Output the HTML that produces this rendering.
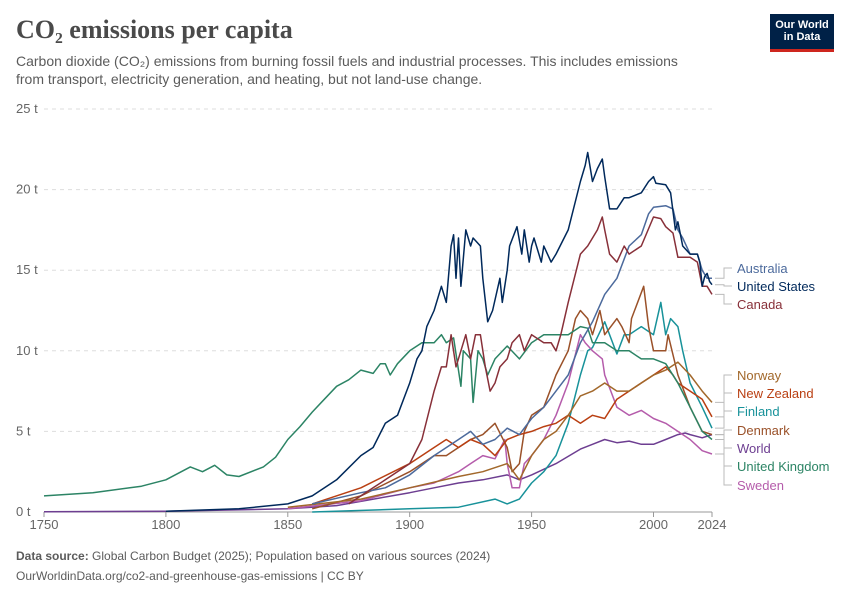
<!DOCTYPE html>
<html><head><meta charset="utf-8"><style>
body{margin:0;background:#fff;font-family:"Liberation Sans",sans-serif}
#wrap{position:relative;width:850px;height:600px;overflow:hidden}
.title{position:absolute;left:16px;top:15px;font-family:"Liberation Serif",serif;font-size:26px;font-weight:bold;color:#4a4a4a}
.sub{position:absolute;left:16px;top:52px;font-size:14px;line-height:18px;color:#5b5b5b;width:692px}
.logo{position:absolute;left:770px;top:14px;width:64px;height:38px;background:#002147;color:#fff;font-size:11px;line-height:12px;text-align:center;padding-top:5px;box-sizing:border-box;border-bottom:3px solid #ce261e;font-weight:bold}
.foot{position:absolute;left:16px;font-size:12px;color:#5b5b5b}
</style></head><body><div id="wrap">
<div class="title">CO₂ emissions per capita</div>
<div class="sub">Carbon dioxide (CO₂) emissions from burning fossil fuels and industrial processes. This includes emissions from transport, electricity generation, and heating, but not land-use change.</div>
<div class="logo">Our World<br>in Data</div>
<svg id="chart" width="850" height="600" style="position:absolute;left:0;top:0"></svg>
<div class="foot" style="top:549px"><b>Data source:</b> Global Carbon Budget (2025); Population based on various sources (2024)</div>
<div class="foot" style="top:569px">OurWorldinData.org/co2-and-greenhouse-gas-emissions | CC BY</div>
</div>
<script>
const yTicks=[0,5,10,15,20,25];
const xTicks=[1750,1800,1850,1900,1950,2000,2024];
const names=["Australia","United States","Canada","Norway","New Zealand","Finland","Denmark","World","United Kingdom","Sweden"];
const colors=["#4c6a9c","#00295b","#883039","#a2682b","#b93f12","#18929a","#9a5129","#6d3e91","#2c8465","#b55cab"];
const labelY=[268,286,304,375,393,411,430,448,466,485];
const australia=[[1860,0.5],[1880,1.2],[1890,1.5],[1900,2.3],[1910,3.5],[1920,4.5],[1925,5],[1930,4.2],[1935,4.5],[1940,5.2],[1945,4.8],[1950,5.8],[1955,6.5],[1960,7.5],[1965,8.5],[1970,10.5],[1975,11.8],[1980,13.5],[1985,14.5],[1990,16.5],[1995,17.2],[1998,18.5],[2000,18.9],[2005,19.0],[2008,18.8],[2010,17.5],[2012,17.0],[2015,16.0],[2018,16],[2020,15],[2022,14.5],[2024,14.5]];
const us=[[1800,0.05],[1830,0.2],[1850,0.5],[1860,1.0],[1870,2],[1880,3.5],[1885,4],[1890,5.5],[1895,6],[1900,8],[1903,9.5],[1905,10],[1907,11.5],[1910,12.5],[1913,14],[1915,13],[1917,16.5],[1918,17.2],[1919,14.5],[1920,17],[1921,14],[1923,17.5],[1925,16.5],[1926,17],[1929,16.5],[1930,14.5],[1932,11.8],[1934,12.5],[1937,14.5],[1938,13],[1940,15],[1941,16.5],[1944,17.7],[1946,16],[1947,17.5],[1949,15.5],[1950,16.5],[1951,17],[1954,15.5],[1955,16.5],[1958,15.5],[1960,16],[1965,17.5],[1970,20.5],[1972,21.5],[1973,22.3],[1975,20.5],[1977,21.3],[1979,21.9],[1980,20.8],[1982,18.8],[1985,18.8],[1988,19.5],[1990,19.5],[1995,19.8],[1998,20.5],[2000,20.8],[2001,20.4],[2005,20.3],[2007,19.8],[2009,17.5],[2010,18],[2012,16.5],[2015,16.0],[2018,16],[2019,15.5],[2020,14],[2021,14.6],[2022,14.8],[2023,14.3],[2024,14.1]];
const canada=[[1875,0.5],[1885,1.5],[1890,2],[1900,3],[1905,4.5],[1910,7.5],[1913,9],[1915,9],[1917,11],[1919,9],[1921,10],[1923,11],[1925,9.5],[1927,11],[1929,11],[1931,9],[1933,7.5],[1935,8],[1937,9],[1940,9.5],[1942,10.5],[1945,11],[1947,10],[1950,11],[1955,10.5],[1958,10.5],[1960,10],[1962,11],[1965,13],[1970,16],[1973,16.5],[1977,17.5],[1979,18.3],[1980,17.5],[1982,16],[1985,15.5],[1988,16.5],[1990,16],[1995,16.5],[2000,18.3],[2003,18.2],[2005,17.7],[2008,17.3],[2010,15.8],[2015,15.8],[2018,15.5],[2020,14],[2022,14],[2024,13.5]];
const norway=[[1850,0.3],[1880,0.8],[1900,1.5],[1920,2.2],[1930,2.5],[1940,3],[1945,2],[1950,3.5],[1955,4.5],[1960,5],[1965,6],[1970,7.2],[1975,7.5],[1980,8],[1985,7.5],[1990,7.5],[1995,8],[2000,8.5],[2005,8.8],[2010,9.3],[2015,8.5],[2020,7.5],[2024,6.8]];
const nz=[[1860,0.5],[1880,1.5],[1900,3],[1910,4],[1915,4.5],[1920,4],[1925,4.5],[1930,4.2],[1935,3.5],[1940,4.5],[1945,4.8],[1950,5],[1955,5.3],[1960,5.5],[1965,6],[1970,5.5],[1975,6],[1980,5.8],[1985,7],[1990,7.5],[1995,8],[2000,8.5],[2005,9],[2008,8.5],[2010,8],[2015,7.5],[2020,7],[2024,5.9]];
const finland=[[1860,0],[1900,0.2],[1920,0.3],[1935,0.8],[1940,0.5],[1945,0.8],[1950,1.8],[1955,2.5],[1960,3.5],[1965,5.5],[1970,8.5],[1973,10],[1975,10.2],[1980,11.8],[1985,9.8],[1988,11],[1990,11],[1995,11.5],[2000,11],[2003,13],[2005,11],[2007,12],[2010,11.5],[2012,10],[2015,8],[2020,6.5],[2024,5.2]];
const denmark=[[1860,0.2],[1880,1],[1900,2.5],[1910,3.5],[1915,3.5],[1920,4],[1925,4.5],[1930,4.8],[1935,5.5],[1940,4],[1942,2.5],[1945,3],[1947,5],[1950,6],[1955,6.5],[1960,8.5],[1965,10],[1968,12],[1970,12.5],[1973,12],[1975,11],[1978,12.5],[1980,11],[1985,12],[1987,11.5],[1990,10.5],[1991,12],[1996,14],[1998,11.5],[2000,10],[2005,10],[2006,11],[2010,8.5],[2015,6.5],[2020,5],[2024,4.8]];
const world=[[1750,0.01],[1800,0.05],[1850,0.2],[1870,0.4],[1900,1.2],[1910,1.5],[1920,1.8],[1930,2],[1940,2.3],[1945,2.0],[1950,2.3],[1960,3],[1970,3.9],[1975,4.2],[1980,4.5],[1985,4.3],[1990,4.4],[1995,4.2],[2000,4.2],[2005,4.5],[2010,4.8],[2013,4.9],[2015,4.8],[2020,4.6],[2024,4.8]];
const uk=[[1750,1.0],[1770,1.2],[1790,1.6],[1800,2.0],[1810,2.8],[1815,2.5],[1820,2.9],[1825,2.3],[1830,2.2],[1840,2.8],[1845,3.4],[1850,4.5],[1855,5.3],[1860,6.2],[1865,7.0],[1870,7.8],[1875,8.2],[1880,8.8],[1885,8.6],[1888,9.2],[1890,9.2],[1892,8.5],[1895,9.2],[1900,10],[1905,10.5],[1910,10.5],[1913,11],[1915,10.5],[1918,10.8],[1921,7.8],[1922,10],[1925,9.5],[1926,6.8],[1928,10.0],[1930,9.5],[1932,8.5],[1935,9.5],[1940,10.3],[1945,9.5],[1950,10.5],[1955,11],[1960,11],[1965,11],[1970,11.5],[1973,11.4],[1975,10.5],[1980,10.5],[1985,10],[1990,10],[1995,9.5],[2000,9.5],[2005,9.2],[2010,8],[2015,6.5],[2020,5],[2024,4.5]];
const sweden=[[1850,0.2],[1880,0.7],[1900,1.5],[1910,1.8],[1920,2.5],[1925,3],[1930,3.5],[1935,3.3],[1939,4.5],[1940,3.0],[1942,1.5],[1945,1.5],[1947,3],[1950,3.5],[1955,4.5],[1960,6],[1965,8],[1970,11],[1972,10.5],[1975,10],[1979,9.5],[1980,8.5],[1985,6.5],[1990,6],[1995,6.3],[2000,5.8],[2005,5.5],[2010,5],[2015,4.5],[2020,3.8],[2024,3.6]];
const series=[australia,us,canada,norway,nz,finland,denmark,world,uk,sweden];
const drawOrder=[7,5,9,6,4,3,8,0,2,1];
const NS="http://www.w3.org/2000/svg";
const svg=document.getElementById('chart');
const X0=44,X1=712,Y0=512,Y1=109;
const x=v=>X0+(v-1750)/(2024-1750)*(X1-X0);
const y=v=>Y0-(v/25)*(Y0-Y1);
function mk(t,a){const e=document.createElementNS(NS,t);for(const k in a)e.setAttribute(k,a[k]);svg.appendChild(e);return e;}
yTicks.forEach(t=>{
 if(t>0){const g=mk('line',{x1:X0,x2:X1,y1:y(t),y2:y(t),stroke:'#ddd','stroke-dasharray':'4,4'});
 
 }
 const l=mk('text',{x:16,y:y(t)+4,'font-size':13,fill:'#666','font-family':'Liberation Sans'});l.textContent=t+' t';
 
 
});
const ax=mk('line',{x1:X0,x2:X1,y1:Y0,y2:Y0,stroke:'#999'});


xTicks.forEach(t=>{
 const tk=mk('line',{x1:x(t),x2:x(t),y1:Y0,y2:Y0+5,stroke:'#999'});
 
 
 const l=mk('text',{x:x(t),y:Y0+17,'font-size':13,fill:'#666','text-anchor':'middle','font-family':'Liberation Sans'});l.textContent=t;
 
 
});
drawOrder.forEach(i=>{
 const d=series[i].map((p,j)=>(j?'L':'M')+x(p[0]).toFixed(1)+','+y(p[1]).toFixed(1)).join('');
 const p=mk('path',{d:d,fill:'none',stroke:colors[i],'stroke-width':1.5,'stroke-linejoin':'round'});
 
 
});
names.forEach((n,i)=>{
 const s=series[i],ey=y(s[s.length-1][1]);
 const c=mk('path',{d:`M${X1+3},${ey}H${X1+12}V${labelY[i]}H${X1+20}`,fill:'none',stroke:'#bbb'});
 
 
 const t=mk('text',{x:737,y:labelY[i]+5,'font-size':13,fill:colors[i],'font-family':'Liberation Sans'});t.textContent=n;
 
 
});
</script></body></html>
